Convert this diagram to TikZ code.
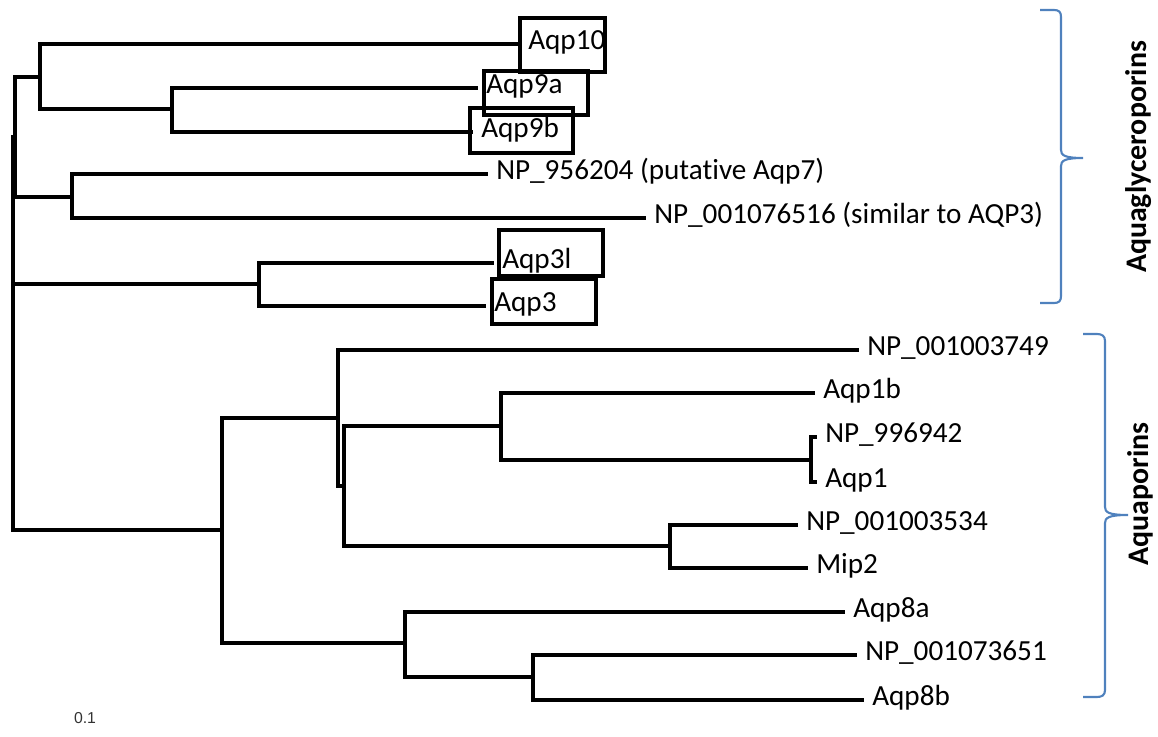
\documentclass[tikz,border=0pt]{standalone}
\usepackage{fontspec}
\setmainfont[Ligatures=NoCommon]{Carlito}
\newfontfamily\scalefont{Liberation Sans}
\usetikzlibrary{positioning}
\definecolor{bracecol}{RGB}{79,129,189}

\begin{document}
\begin{tikzpicture}[
    x=0.02cm, y=-0.02cm,
    br/.style={line width=1.8pt},
    leaf/.style={anchor=west, inner xsep=4.5pt, inner ysep=0pt, text height=0.64em, text depth=0pt, font=\fontsize{16.6}{19}\selectfont},
    hl/.style={draw, line width=2.4pt},
    grp/.style={draw=bracecol, line width=1.2pt},
    glabel/.style={rotate=90, font=\fontsize{17}{19}\selectfont\bfseries}
  ]
  \useasboundingbox (0,0) rectangle (1158,736);

  % inner nodes
  \coordinate (R) at (13,284);
  \coordinate (G) at (15,137);
  \coordinate (T) at (40,77);
  \coordinate (N9) at (172,109);
  \coordinate (N7) at (72,197);
  \coordinate (N3) at (259,284);
  \coordinate (W) at (222,530);
  \coordinate (WA) at (338,418);
  \coordinate (WB) at (344,486);
  \coordinate (N1) at (501,426);
  \coordinate (N1p) at (811,460);
  \coordinate (NM) at (670,546);
  \coordinate (N8) at (405,643);
  \coordinate (N8b) at (533,677);

  % leaves
  \node[leaf] (aqp10) at (520,44) {Aqp10};
  \node[leaf] (aqp9a) at (478,88) {Aqp9a};
  \node[leaf] (aqp9b) at (473,132) {Aqp9b};
  \node[leaf] (np956) at (488,174) {NP\_956204 (putative Aqp7)};
  \node[leaf] (np076) at (646,218) {NP\_001076516 (similar to AQP3)};
  \node[leaf] (aqp3l) at (494,263) {Aqp3l};
  \node[leaf] (aqp3) at (486,306) {Aqp3};
  \node[leaf] (np749) at (859,350) {NP\_001003749};
  \node[leaf] (aqp1b) at (815,393) {Aqp1b};
  \node[leaf] (np942) at (817,437) {NP\_996942};
  \node[leaf] (aqp1) at (817,482) {Aqp1};
  \node[leaf] (np534) at (798,525) {NP\_001003534};
  \node[leaf] (mip2) at (808,568) {Mip2};
  \node[leaf] (aqp8a) at (845,612) {Aqp8a};
  \node[leaf] (np651) at (857,655) {NP\_001073651};
  \node[leaf] (aqp8b) at (864,700) {Aqp8b};

  % branches
  \draw[br] (R) |- (G) (R) |- (N3) (R) |- (W);
  \draw[br] (G) |- (T) (G) |- (N7);
  \draw[br] (T) |- (aqp10.west) (T) |- (N9);
  \draw[br] (N9) |- (aqp9a.west) (N9) |- (aqp9b.west);
  \draw[br] (N7) |- (np956.west) (N7) |- (np076.west);
  \draw[br] (N3) |- (aqp3l.west) (N3) |- (aqp3.west);
  \draw[br] (W) |- (WA) (W) |- (N8);
  \draw[br] (WA) |- (np749.west) (WA) |- (WB);
  \draw[br] (WB) |- (N1) (WB) |- (NM);
  \draw[br] (N1) |- (aqp1b.west) (N1) |- (N1p);
  \draw[br] (N1p) |- (np942.west) (N1p) |- (aqp1.west);
  \draw[br] (NM) |- (np534.west) (NM) |- (mip2.west);
  \draw[br] (N8) |- (aqp8a.west) (N8) |- (N8b);
  \draw[br] (N8b) |- (np651.west) (N8b) |- (aqp8b.west);

  % highlighted genes
  \draw[hl] (520,18) rectangle (605,72);
  \draw[hl] (484,71) rectangle (588,115);
  \draw[hl] (470,108) rectangle (573,153);
  \draw[hl] (499,230) rectangle (603,276);
  \draw[hl] (492,279) rectangle (596,324);

  % groups
  \draw[grp] (1040,10) -- (1054,10) .. controls (1059,10) and (1061,12) .. (1061,17) -- (1061,150)
    .. controls (1061,155) and (1064,158) .. (1083,158)
    .. controls (1064,158) and (1061,161) .. (1061,166) -- (1061,296)
    .. controls (1061,301) and (1059,303) .. (1054,303) -- (1040,303);
  \draw[grp] (1083,334) -- (1097,334) .. controls (1102,334) and (1105,336) .. (1105,341) -- (1105,507)
    .. controls (1105,512) and (1108,515) .. (1128,515)
    .. controls (1108,515) and (1105,518) .. (1105,523) -- (1105,690)
    .. controls (1105,695) and (1102,697) .. (1097,697) -- (1083,697);
  \node[glabel] (agp) at (1139,157) {Aquaglyceroporins};
  \node[glabel] (aqp) at (1140,494) {Aquaporins};

  \node[font=\scalefont\fontsize{9}{10}\selectfont, text=black!80] (sc) at (85,718) {0.1};
\end{tikzpicture}
\end{document}
